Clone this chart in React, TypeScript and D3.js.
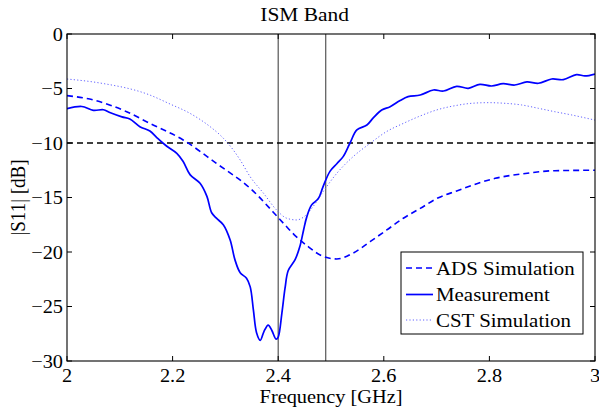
import React from "react";
import * as d3 from "d3";

// frequency [GHz] / |S11| [dB]
const measFreq = [2.0, 2.028, 2.05, 2.069, 2.081, 2.104, 2.119, 2.138, 2.157, 2.17, 2.189, 2.208, 2.22, 2.233, 2.252, 2.265, 2.274, 2.283, 2.296, 2.309, 2.318, 2.328, 2.34, 2.347, 2.353, 2.359, 2.366, 2.373, 2.381, 2.388, 2.396, 2.4, 2.407, 2.413, 2.419, 2.432, 2.441, 2.448, 2.454, 2.463, 2.476, 2.485, 2.498, 2.511, 2.523, 2.536, 2.549, 2.568, 2.58, 2.596, 2.612, 2.631, 2.646, 2.669, 2.694, 2.713, 2.738, 2.76, 2.782, 2.804, 2.826, 2.848, 2.871, 2.893, 2.918, 2.94, 2.965, 2.981, 3.0];
const measDb = [-6.85, -6.65, -7.0, -6.95, -7.2, -7.6, -7.8, -8.5, -8.9, -9.5, -10.3, -10.95, -11.7, -12.9, -13.7, -14.9, -16.4, -16.9, -17.5, -18.9, -20.7, -21.9, -22.4, -23.2, -25.3, -27.4, -28.1, -27.3, -26.7, -27.2, -28.0, -27.8, -25.6, -23.3, -21.7, -20.7, -19.5, -18.0, -16.8, -15.7, -15.1, -14.0, -12.6, -11.9, -11.25, -10.0, -8.8, -8.35, -7.7, -6.97, -6.67, -6.1, -5.75, -5.6, -5.14, -5.23, -4.8, -4.98, -4.62, -4.77, -4.56, -4.68, -4.4, -4.52, -4.13, -4.19, -3.73, -3.85, -3.67];

const adsFreq = [2.0, 2.05, 2.113, 2.157, 2.22, 2.283, 2.347, 2.41, 2.43, 2.454, 2.485, 2.511, 2.542, 2.574, 2.605, 2.637, 2.669, 2.7, 2.738, 2.811, 2.861, 2.924, 3.0];
const adsDb = [-5.65, -6.05, -7.13, -8.2, -9.72, -11.87, -14.16, -17.37, -18.4, -19.4, -20.4, -20.64, -20.1, -19.05, -18.0, -16.9, -16.0, -15.1, -14.4, -13.24, -12.84, -12.54, -12.5];

const cstFreq = [2.0, 2.063, 2.157, 2.195, 2.233, 2.271, 2.29, 2.306, 2.328, 2.347, 2.372, 2.397, 2.416, 2.435, 2.448, 2.466, 2.485, 2.511, 2.542, 2.574, 2.605, 2.637, 2.669, 2.7, 2.738, 2.766, 2.798, 2.83, 2.861, 2.893, 2.924, 2.956, 3.0];
const cstDb = [-4.13, -4.5, -5.6, -6.42, -7.28, -8.5, -9.27, -10.09, -11.56, -13.1, -14.6, -16.15, -16.9, -17.06, -16.8, -15.84, -14.47, -12.78, -11.25, -10.03, -8.96, -8.2, -7.52, -6.97, -6.55, -6.36, -6.3, -6.36, -6.51, -6.82, -7.13, -7.43, -7.9];

const xTicks = [2, 2.2, 2.4, 2.6, 2.8, 3];
const yTicks = [0, -5, -10, -15, -20, -25, -30];
const bandEdges = [2.4, 2.49];
const threshold = -10;
const legendLabels = ["ADS Simulation", "Measurement", "CST Simulation"];

const W = 599;
const H = 409;
const m = { left: 67, right: 4, top: 34, bottom: 48 };
const FONT = "'Liberation Serif', 'Times New Roman', serif";
const SX = 1.1; // the reference text is a bit wider than tall

const fmt = (v: number) => (v < 0 ? "\u2212" + Math.abs(v) : String(v));

const T = ({ x, y, anchor = "middle", rotate = 0, size = 19, children }: any) => (
  <text
    transform={`translate(${x},${y})` + (rotate ? ` rotate(${rotate}) scale(1,${SX})` : ` scale(${SX},1)`)}
    textAnchor={anchor}
    fontFamily={FONT}
    fontSize={size}
    fill="#000"
  >
    {children}
  </text>
);

export default function App() {
  const x = d3.scaleLinear().domain([2, 3]).range([m.left, W - m.right]);
  const y = d3.scaleLinear().domain([-30, 0]).range([H - m.bottom, m.top]);

  const mk = (curve: any) =>
    d3
      .line<[number, number]>()
      .x((d) => x(d[0]))
      .y((d) => y(d[1]))
      .curve(curve);

  const meas = d3.zip(measFreq, measDb) as [number, number][];
  const ads = d3.zip(adsFreq, adsDb) as [number, number][];
  const cst = d3.zip(cstFreq, cstDb) as [number, number][];

  const x0 = x.range()[0];
  const x1 = x.range()[1];
  const y0 = y.range()[0];
  const y1 = y.range()[1];

  const styles = [
    { stroke: "#0000ff", width: 1.6, dash: "6,4" },
    { stroke: "#0000ff", width: 1.7, dash: "none" },
    { stroke: "#6262ff", width: 1, dash: "1.2,2.2" },
  ];

  const lgX = 401;
  const lgY = 252;
  const lgW = 182;
  const lgH = 82;
  const rowY = [268, 294.5, 320];

  return (
    <svg width={W} height={H} style={{ position: "absolute", left: 0, top: 0, background: "#fff" }}>
      <defs>
        <clipPath id="plot">
          <rect x={x0} y={y1} width={x1 - x0} height={y0 - y1} />
        </clipPath>
      </defs>
      <rect x={0} y={0} width={W} height={H} fill="#fff" />

      <g clipPath="url(#plot)">
        {bandEdges.map((f) => (
          <line key={f} x1={x(f)} x2={x(f)} y1={y1} y2={y0} stroke="#555" strokeWidth={1.2} />
        ))}
        <line x1={x0} x2={x1} y1={y(threshold)} y2={y(threshold)} stroke="#000" strokeWidth={1.6} strokeDasharray="6,4" />
        <path d={mk(d3.curveMonotoneX)(cst) || ""} fill="none" stroke={styles[2].stroke} strokeWidth={styles[2].width} strokeDasharray={styles[2].dash} />
        <path d={mk(d3.curveMonotoneX)(ads) || ""} fill="none" stroke={styles[0].stroke} strokeWidth={styles[0].width} strokeDasharray={styles[0].dash} />
        <path d={mk(d3.curveCatmullRom.alpha(0.5))(meas) || ""} fill="none" stroke={styles[1].stroke} strokeWidth={styles[1].width} />
      </g>

      {/* axes box and inward ticks */}
      <rect x={x0} y={y1} width={x1 - x0} height={y0 - y1} fill="none" stroke="#000" strokeWidth={1.1} />
      {xTicks.map((t) => (
        <g key={"x" + t}>
          <line x1={x(t)} x2={x(t)} y1={y0} y2={y0 - 5} stroke="#000" />
          <line x1={x(t)} x2={x(t)} y1={y1} y2={y1 + 5} stroke="#000" />
          <T x={x(t)} y={y0 + 21} size={18.5}>{fmt(t)}</T>
        </g>
      ))}
      {yTicks.map((t) => (
        <g key={"y" + t}>
          <line x1={x0} x2={x0 + 5} y1={y(t)} y2={y(t)} stroke="#000" />
          <line x1={x1} x2={x1 - 5} y1={y(t)} y2={y(t)} stroke="#000" />
          <T x={x0 - 4} y={y(t) + 6.5} anchor="end" size={18.5}>{fmt(t)}</T>
        </g>
      ))}

      <T x={x(2.45)} y={21} size={19.5}>ISM Band</T>
      <T x={(x0 + x1) / 2} y={403} size={18.5}>Frequency [GHz]</T>
      <T x={25} y={(y0 + y1) / 2} rotate={-90}>|S11| [dB]</T>

      {/* legend */}
      <rect x={lgX} y={lgY} width={lgW} height={lgH} fill="#fff" stroke="#000" strokeWidth={1} />
      {legendLabels.map((lab, i) => (
        <g key={lab}>
          <line
            x1={lgX + 5}
            x2={lgX + 32}
            y1={rowY[i]}
            y2={rowY[i]}
            stroke={styles[i].stroke}
            strokeWidth={styles[i].width}
            strokeDasharray={styles[i].dash}
          />
          <T x={lgX + 35} y={rowY[i] + 6.5} anchor="start">{lab}</T>
        </g>
      ))}
    </svg>
  );
}
